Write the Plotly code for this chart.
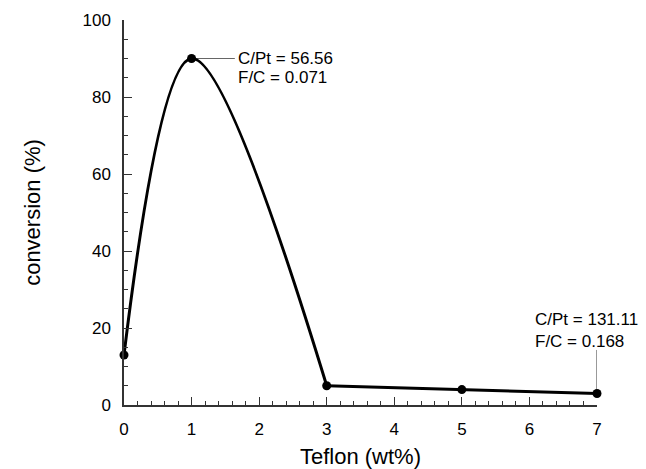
import plotly.graph_objects as go

teflon = [0, 1, 3, 5, 7]
conversion = [13, 90, 5, 4, 3]
x_ticks = [0, 1, 2, 3, 4, 5, 6, 7]
y_ticks = [0, 20, 40, 60, 80, 100]
note1 = ["C/Pt = 56.56", "F/C = 0.071"]
note2 = ["C/Pt = 131.11", "F/C = 0.168"]

FONT = "Liberation Sans, Arial, sans-serif"

fig = go.Figure()
# smooth part of the curve (0 -> 3 wt%)
fig.add_trace(go.Scatter(
    x=teflon[:3], y=conversion[:3], mode="lines",
    line=dict(color="black", width=3, shape="spline", smoothing=1.0),
    cliponaxis=False, showlegend=False, hoverinfo="skip",
))
# flat part (3 -> 7 wt%)
fig.add_trace(go.Scatter(
    x=teflon[2:], y=conversion[2:], mode="lines",
    line=dict(color="black", width=3),
    cliponaxis=False, showlegend=False, hoverinfo="skip",
))
fig.add_trace(go.Scatter(
    x=teflon, y=conversion, mode="markers",
    marker=dict(color="black", size=9),
    cliponaxis=False, showlegend=False,
))

# leader lines
fig.add_shape(type="line", x0=teflon[1], y0=conversion[1], x1=1.64, y1=conversion[1],
              line=dict(color="#666666", width=1), layer="below")
fig.add_shape(type="line", x0=teflon[4], y0=conversion[4], x1=teflon[4], y1=14.3,
              line=dict(color="#333333", width=1), layer="below")

for txt, yy in zip(note1, [90, 85.0]):
    fig.add_annotation(x=1.655, y=yy, text=txt, showarrow=False, xanchor="left",
                       yanchor="middle", font=dict(size=17, color="black", family=FONT))
for txt, yy in zip(note2, [22.1, 16.4]):
    fig.add_annotation(x=6.05, y=yy, text=txt, showarrow=False, xanchor="left",
                       yanchor="middle", font=dict(size=17, color="black", family=FONT))

axis_common = dict(
    showgrid=False, zeroline=False, showline=True, linecolor="#333333", linewidth=1.5,
    ticks="inside", tickcolor="#333333", tickwidth=1.2, ticklen=8,
    tickfont=dict(size=17, color="black", family=FONT),
)

fig.update_xaxes(
    range=[0, 7], tickmode="array", tickvals=x_ticks, ticktext=[str(v) for v in x_ticks],
    minor=dict(ticks="inside", dtick=0.2, ticklen=4, tickcolor="#333333", tickwidth=1),
    title=dict(text="Teflon (wt%)", font=dict(size=22, color="black", family=FONT), standoff=12),
    ticklabelstandoff=8,
    **axis_common,
)
fig.update_yaxes(
    range=[0, 100], tickmode="array", tickvals=y_ticks, ticktext=[str(v) for v in y_ticks],
    minor=dict(ticks="inside", dtick=5, ticklen=4, tickcolor="#333333", tickwidth=1),
    title=dict(text="conversion (%)", font=dict(size=22, color="black", family=FONT), standoff=36),
    ticklabelstandoff=8,
    **axis_common,
)

fig.update_layout(
    width=646, height=469,
    margin=dict(l=124, r=49, t=20, b=64, autoexpand=False),
    plot_bgcolor="white", paper_bgcolor="white",
    font=dict(family=FONT),
)

fig.write_html("out.html", config={"displayModeBar": False},
               post_script="document.body.style.margin='0';document.body.style.overflow='hidden';")
